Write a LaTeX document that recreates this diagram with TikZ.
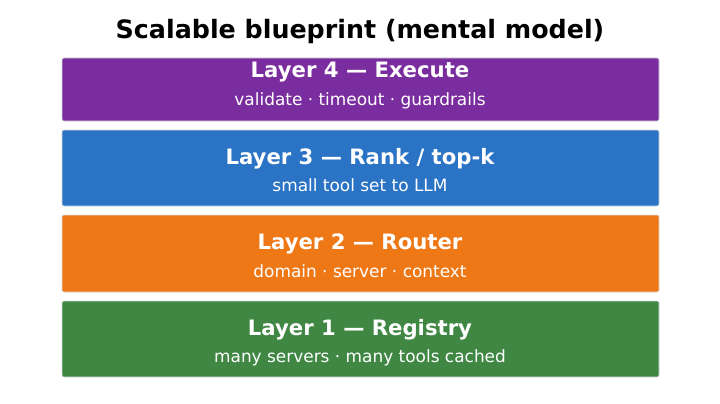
\documentclass[tikz,border=0pt]{standalone}
\usepackage{fontspec}
\setmainfont{DejaVu Sans}
\definecolor{cpurple}{HTML}{7A2D9E}
\definecolor{cblue}{HTML}{2A73C5}
\definecolor{corange}{HTML}{EE7816}
\definecolor{cgreen}{HTML}{3F8743}
\begin{document}
\begin{tikzpicture}[x=0.75pt,y=-0.75pt,
  layerbox/.style={draw=white!85!black, line width=0.4pt, rounded corners=1.5pt},
  ltitle/.style={text=white, font=\bfseries\fontsize{15.9pt}{19pt}\selectfont, inner sep=0pt},
  lsub/.style={text=white, font=\fontsize{12.7pt}{15pt}\selectfont, inner sep=0pt}]
\useasboundingbox (0,0) rectangle (720,403);
\node[font=\bfseries\fontsize{19pt}{23pt}\selectfont, inner sep=0pt] (title) at (360,31.5) {Scalable blueprint (mental model)};
\path[layerbox, fill=cpurple] (62,58) rectangle (659,121);
\node[ltitle] (t4) at (360,72.5) {Layer 4 — Execute};
\node[lsub] (s4) at (360,100.5) {validate · timeout · guardrails};
\path[layerbox, fill=cblue] (62,130) rectangle (659,206);
\node[ltitle] (t3) at (360,158.5) {Layer 3 — Rank / top-k};
\node[lsub] (s3) at (360,185.5) {small tool set to LLM};
\path[layerbox, fill=corange] (62,215) rectangle (659,292);
\node[ltitle] (t2) at (360,243.5) {Layer 2 — Router};
\node[lsub] (s2) at (360,271.5) {domain · server · context};
\path[layerbox, fill=cgreen] (62,301) rectangle (659,377);
\node[ltitle] (t1) at (360,329.5) {Layer 1 — Registry};
\node[lsub] (s1) at (360,357.5) {many servers · many tools cached};
\end{tikzpicture}
\end{document}
